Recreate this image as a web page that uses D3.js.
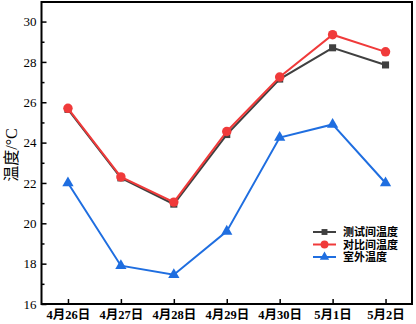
<!DOCTYPE html>
<html>
<head>
<meta charset="utf-8">
<script src="https://cdn.jsdelivr.net/npm/d3@7"></script>
<style>
  body { margin: 0; background: #fff; }
  text { font-family: "Liberation Serif", "Noto Sans CJK SC", serif; }
</style>
</head>
<body>
<svg id="chart" width="416" height="324"></svg>
<script>
// data
const dates = ["4月26日", "4月27日", "4月28日", "4月29日", "4月30日", "5月1日", "5月2日"];
const testRoom = [25.65, 22.25, 20.95, 24.4, 27.15, 28.7, 27.85];
const compareRoom = [25.7, 22.3, 21.05, 24.55, 27.25, 29.35, 28.5];
const outdoor = [22.0, 17.9, 17.45, 19.6, 24.25, 24.9, 22.0];
const yTicks = [16, 18, 20, 22, 24, 26, 28, 30];

const series = [
  {name: "测试间温度", values: testRoom, color: "#404040", shape: d3.symbolSquare, size: 50},
  {name: "对比间温度", values: compareRoom, color: "#f03a3a", shape: d3.symbolCircle, size: 70},
  {name: "室外温度", values: outdoor, color: "#1f6ee0", shape: d3.symbolTriangle, size: 55}
];

const margin = {left: 41.5, right: 4, top: 2, bottom: 20};
const W = 416, H = 324;
const svg = d3.select("#chart");

const x = d3.scalePoint()
  .domain(dates)
  .range([margin.left, W - margin.right])
  .padding(0.5);

const y = d3.scaleLinear()
  .domain([16, 30.97])
  .range([H - margin.bottom, margin.top]);

// minor ticks (every 1 degree)
svg.append("g")
  .attr("transform", `translate(${margin.left},0)`)
  .call(d3.axisLeft(y).tickValues(d3.range(17, 31, 2)).tickSize(-3).tickFormat(""))
  .call(g => g.select(".domain").remove())
  .selectAll("line").attr("stroke", "#000").attr("stroke-width", 1.5);

// y axis major
svg.append("g")
  .attr("transform", `translate(${margin.left},0)`)
  .call(d3.axisLeft(y).tickValues(yTicks).tickSize(-5).tickPadding(5))
  .call(g => g.select(".domain").remove())
  .call(g => g.selectAll("line").attr("stroke", "#000").attr("stroke-width", 1.5))
  .call(g => g.selectAll("text")
    .attr("font-size", 13).attr("fill", "#000")
    .attr("font-family", "Liberation Serif"));

// x axis
svg.append("g")
  .attr("transform", `translate(0,${H - margin.bottom})`)
  .call(d3.axisBottom(x).tickSize(-5).tickPadding(6))
  .call(g => g.select(".domain").remove())
  .call(g => g.selectAll("line").attr("stroke", "#000").attr("stroke-width", 1.5))
  .call(g => g.selectAll("text")
    .attr("font-size", 12.5).attr("font-weight", "bold").attr("fill", "#000"));

// frame
svg.append("rect")
  .attr("x", margin.left).attr("y", margin.top)
  .attr("width", W - margin.right - margin.left)
  .attr("height", H - margin.bottom - margin.top)
  .attr("fill", "none").attr("stroke", "#000").attr("stroke-width", 2);

// y label
svg.append("text")
  .attr("transform", "translate(17,155) rotate(-90)")
  .attr("text-anchor", "middle")
  .attr("font-size", 16)
  .text("温度/°C");

const line = d3.line()
  .x((d, i) => x(dates[i]))
  .y(d => y(d));

series.forEach(s => {
  svg.append("path")
    .datum(s.values)
    .attr("d", line)
    .attr("fill", "none")
    .attr("stroke", s.color)
    .attr("stroke-width", 2);

  svg.append("g").selectAll("path")
    .data(s.values).enter()
    .append("path")
    .attr("d", d3.symbol().type(s.shape).size(s.size))
    .attr("transform", (d, i) => `translate(${x(dates[i])},${y(d)})`)
    .attr("fill", s.color);
});

// legend
const legend = svg.append("g").attr("transform", "translate(313,232)");
series.forEach((s, i) => {
  const g = legend.append("g").attr("transform", `translate(0,${i * 12.5})`);
  g.append("line").attr("x1", 0).attr("x2", 23).attr("y1", 0).attr("y2", 0)
    .attr("stroke", s.color).attr("stroke-width", 2);
  g.append("path")
    .attr("d", d3.symbol().type(s.shape).size(s.size * 0.7))
    .attr("transform", "translate(11.5,0)")
    .attr("fill", s.color);
  g.append("text").attr("x", 30).attr("y", 4)
    .attr("font-size", 11).attr("font-weight", "bold")
    .text(s.name);
});
</script>
</body>
</html>
